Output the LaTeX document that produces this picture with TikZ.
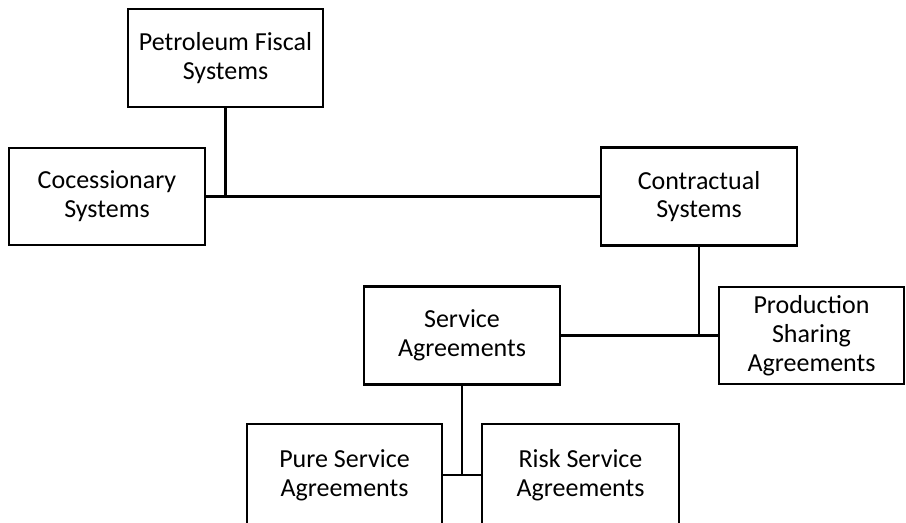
\documentclass[tikz,border=0pt]{standalone}
\usepackage{fontspec}
\setmainfont{Carlito}
\begin{document}
\begin{tikzpicture}[x=0.75pt,y=-0.75pt,
  box/.style={draw=black, line width=1.6pt, rectangle, inner sep=0pt, align=center,
    font=\fontsize{19.5pt}{21.6pt}\selectfont},
  conn/.style={draw=black, line width=1.6pt}]
\useasboundingbox (0,0) rectangle (906,522);
\node[box, minimum width=195*0.75pt, minimum height=98*0.75pt] (pfs) at (225.5,58) {Petroleum Fiscal\\Systems};
\node[box, minimum width=196*0.75pt, minimum height=97*0.75pt] (coc) at (107,196.5) {Cocessionary\\Systems};
\node[box, minimum width=196*0.75pt, minimum height=98*0.75pt] (con) at (699,196.5) {Contractual\\Systems};
\node[box, minimum width=185*0.75pt, minimum height=97*0.75pt] (psa) at (811.5,335.5) {Production\\Sharing\\Agreements};
\node[box, minimum width=196*0.75pt, minimum height=98*0.75pt] (sa) at (462,335.5) {Service\\Agreements};
\node[box, minimum width=195*0.75pt, minimum height=102*0.75pt] (psv) at (344.5,475) {Pure Service\\Agreements};
\node[box, minimum width=197*0.75pt, minimum height=102*0.75pt] (rsv) at (580.5,475) {Risk Service\\Agreements};
\draw[conn] (coc.east) -- (con.west);
\draw[conn] (pfs.south) -- (pfs.south |- coc.east);
\draw[conn] (sa.east) -- (psa.west);
\draw[conn] (con.south) -- (con.south |- psa.west);
\draw[conn] (psv.east) -- (rsv.west);
\draw[conn] (sa.south) -- (sa.south |- psv.east);
\end{tikzpicture}
\end{document}
